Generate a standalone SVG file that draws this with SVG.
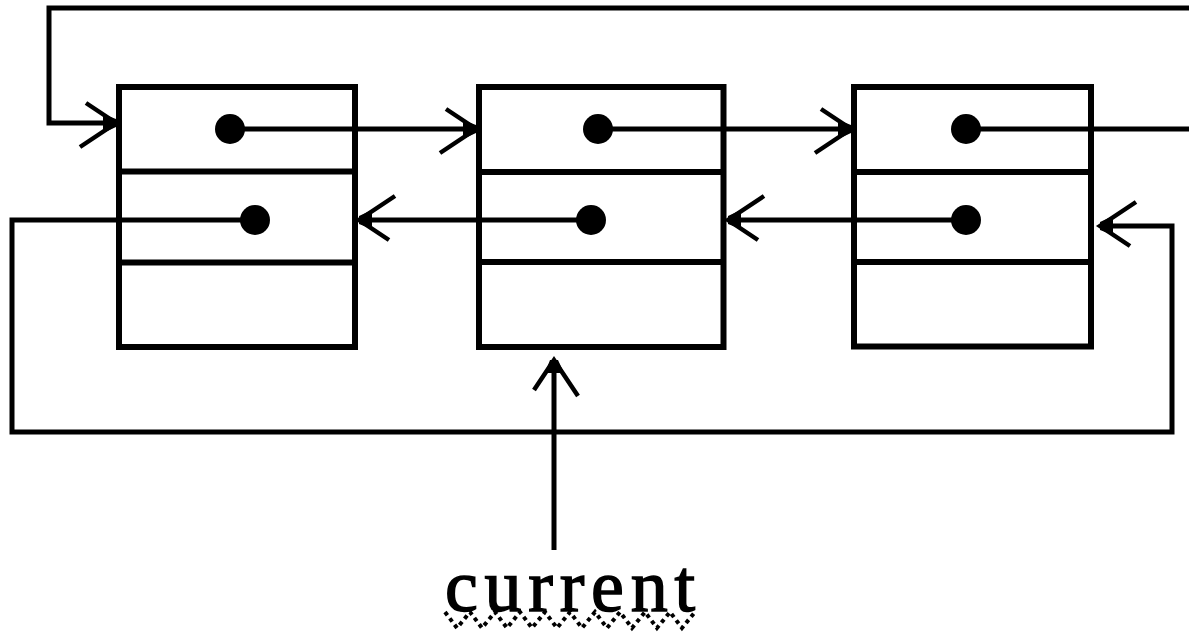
<svg xmlns="http://www.w3.org/2000/svg" width="1189" height="636" viewBox="0 0 1189 636">
  <defs>
    <style>
      .cell { fill: #fff; stroke: #000; stroke-width: 6; }
      .div { stroke: #000; stroke-width: 6; }
      .dot { fill: #000; }
      .link { fill: none; stroke: #000; stroke-width: 5; }
      .label { font-family: "Liberation Serif", "Times New Roman", serif; font-size: 74px; fill: #000; stroke: #000; stroke-width: 1.5; }
      .squiggle { fill: none; stroke: #000; stroke-width: 4; stroke-dasharray: 4 4; }
    </style>
    <!-- open chevron arrowhead with a solid tip -->
    <marker id="chev" markerUnits="userSpaceOnUse" viewBox="-42 -30 48 60" refX="0" refY="0" markerWidth="48" markerHeight="60" orient="auto" overflow="visible">
      <path d="M-30,-20 L0,0 L-36,24" fill="none" stroke="#000" stroke-width="4.5"/>
      <path d="M-13,-9 L0,-4 L0,4 L-13,10 Z" fill="#000"/>
    </marker>
  </defs>

  <!-- list nodes -->
  <g id="node1">
    <rect class="cell" x="119" y="87" width="236" height="260"/>
    <line class="div" x1="119" y1="171.5" x2="355" y2="171.5"/>
    <line class="div" x1="119" y1="262.5" x2="355" y2="262.5"/>
  </g>
  <g id="node2">
    <rect class="cell" x="479" y="87" width="244.5" height="260"/>
    <line class="div" x1="479" y1="172" x2="723.5" y2="172"/>
    <line class="div" x1="479" y1="262" x2="723.5" y2="262"/>
  </g>
  <g id="node3">
    <rect class="cell" x="854" y="87" width="237" height="259.5"/>
    <line class="div" x1="854" y1="172" x2="1091" y2="172"/>
    <line class="div" x1="854" y1="262" x2="1091" y2="262"/>
  </g>

  <!-- pointers between nodes -->
  <g id="connectors">
    <path class="link" d="M1189,8 H49 V123 H116" marker-end="url(#chev)"/>
    <path class="link" d="M230,129 H476" marker-end="url(#chev)"/>
    <path class="link" d="M598,129 H851" marker-end="url(#chev)"/>
    <path class="link" d="M966,129 H1189"/>
    <path class="link" d="M255,220 H12 V432 H1172 V226 H1100" marker-end="url(#chev)"/>
    <path class="link" d="M591,220 H359" marker-end="url(#chev)"/>
    <path class="link" d="M966,220 H728" marker-end="url(#chev)"/>
    <path class="link" d="M554,550 V360" marker-end="url(#chev)"/>
  </g>

  <!-- pointer origins -->
  <g id="dots">
    <circle class="dot" cx="230" cy="129" r="15"/>
    <circle class="dot" cx="255" cy="220" r="15"/>
    <circle class="dot" cx="598" cy="129" r="15"/>
    <circle class="dot" cx="591" cy="220" r="15"/>
    <circle class="dot" cx="966" cy="129" r="15"/>
    <circle class="dot" cx="966" cy="220" r="15"/>
  </g>

  <!-- current pointer label -->
  <g id="current">
    <text class="label" x="445" y="611" textLength="250" lengthAdjust="spacing">current</text>
    <polyline class="squiggle" points="445,612 457,628 470,612 482,628 495,612 507,628 520,612 532,628 545,612 557,628 570,612 582,628 595,612 607,628 620,612 632,628 645,612 657,628 670,612 682,628 695,612"/>
  </g>
</svg>
